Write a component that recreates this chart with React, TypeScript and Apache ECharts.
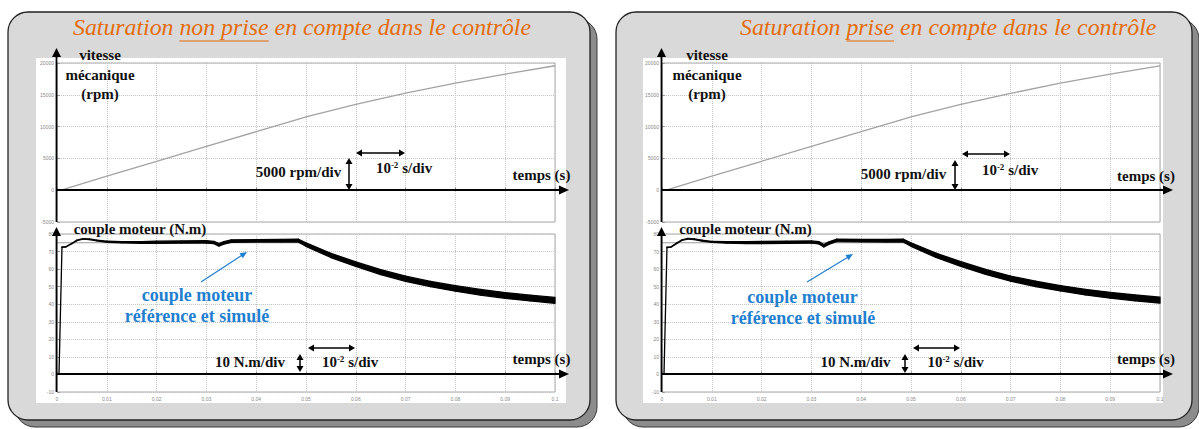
import React, { useEffect, useRef } from "react";
import * as echarts from "echarts";

// ---------------- data ----------------
const speedTime = [0, 0.001, 0.01, 0.02, 0.03, 0.04, 0.048, 0.05, 0.06, 0.07, 0.08, 0.09, 0.1];
const speedLeft = [0, 50, 2200, 4550, 6880, 9200, 11070, 11520, 13500, 15250, 16830, 18250, 19570];
const speedRight = [0, 50, 2200, 4550, 6880, 9200, 11070, 11520, 13480, 15230, 16820, 18240, 19560];

const torqueTime = [0, 0.0004, 0.001, 0.0018, 0.003, 0.004, 0.0052, 0.0065, 0.008, 0.01, 0.013, 0.017, 0.02, 0.025, 0.03, 0.0315, 0.0325, 0.0335, 0.035, 0.04, 0.045, 0.0485, 0.05, 0.055, 0.06, 0.065, 0.07, 0.075, 0.08, 0.085, 0.09, 0.095, 0.1];
const torqueLeft = [0, 0, 72.5, 72.7, 74.6, 76.4, 77.2, 77.0, 76.3, 75.6, 75.3, 75.2, 75.3, 75.4, 75.5, 75.2, 73.8, 74.9, 76.0, 76.1, 76.2, 76.2, 74.0, 67.8, 62.8, 58.3, 54.5, 51.5, 49.0, 46.8, 45.0, 43.5, 42.2];
const rippleLeft = [0, 0, 0.2, 0.2, 0.3, 0.3, 0.3, 0.4, 0.5, 0.6, 0.8, 1.0, 1.2, 1.3, 1.3, 1.3, 1.4, 1.4, 1.4, 1.4, 1.5, 1.6, 2.0, 2.4, 2.6, 2.8, 2.9, 3.0, 3.1, 3.2, 3.3, 3.3, 3.4];
const refLeft = [75, 75, 75, 75, 75, 75, 75, 75, 75, 75, 75, 75, 75, 75, 75, 75, 75, 75, 75, 75, 75, 75, 74.0, 67.8, 62.8, 58.3, 54.5, 51.5, 49.0, 46.8, 45.0, 43.5, 42.2];
const torqueRight = [0, 0, 72.4, 72.6, 74.8, 76.5, 77.3, 77.0, 76.2, 75.5, 75.2, 75.1, 75.2, 75.3, 75.4, 75.0, 73.3, 74.8, 76.3, 76.2, 76.2, 76.2, 74.0, 67.9, 62.9, 58.4, 54.6, 51.6, 49.1, 46.9, 45.1, 43.6, 42.3];
const rippleRight = [0, 0, 0.2, 0.2, 0.3, 0.3, 0.3, 0.4, 0.5, 0.6, 0.8, 1.0, 1.2, 1.3, 1.3, 1.3, 1.4, 1.4, 1.4, 1.4, 1.5, 1.6, 2.0, 2.4, 2.6, 2.8, 2.9, 3.0, 3.1, 3.2, 3.3, 3.3, 3.4];
const refRight = [75, 75, 75, 75, 75, 75, 75, 75, 75, 75, 75, 75, 75, 75, 75, 75, 75, 75, 75, 75, 75, 75, 74.0, 67.9, 62.9, 58.4, 54.6, 51.6, 49.1, 46.9, 45.1, 43.6, 42.3];

const timeAxis = { min: 0, max: 0.1, interval: 0.01 };
const speedAxis = { min: -5000, max: 20000, interval: 5000 };
const torqueAxis = { min: -10, max: 80, interval: 10 };

const titleLeft = ["Saturation ", "non prise", " en compte dans le contrôle"];
const titleRight = ["Saturation ", "prise", " en compte dans le contrôle"];
const speedLabel = ["vitesse", "mécanique", "(rpm)"];
const torqueLabel = "couple moteur (N.m)";
const blueLabel = ["couple moteur", "référence et simulé"];
const speedScaleLabel = "5000 rpm/div";
const torqueScaleLabel = "10 N.m/div";
const timeLabel = "temps (s)";

// ---------------- layout ----------------
const ORANGE = "#e46c0a";
const BLUE = "#1f7fd0";
const SERIF = '"Liberation Serif", "DejaVu Serif", serif';
const LABEL_FONT = `bold 15px ${SERIF}`;

const panels = [
  {
    title: titleLeft, titleX: 73,
    box: [8, 12, 582, 408], white: [36, 58, 530, 345],
    gx: 57, axisX: 56.5, xEnd: 569,
    vit: 100,
    t5000: [298.5, 172], v1: [349, 158, 190], h1: [356, 405, 153], sd1: [404, 168], tp1: [541.5, 175],
    couple: [140, 229], b1: [197, 295], b2: [197, 316], ba: [201, 282, 247, 252],
    t10: [250, 362], v2: [300, 354, 372], h2: [308, 355, 348], sd2: [350, 362], tp2: [541.5, 359],
  },
  {
    title: titleRight, titleX: 740,
    box: [616, 12, 576, 408], white: [643, 58, 520, 345],
    gx: 662, axisX: 661.5, xEnd: 1173,
    vit: 707,
    t5000: [903.5, 174], v1: [955, 160, 190], h1: [962, 1010, 154], sd1: [1010, 170], tp1: [1146, 176],
    couple: [745.5, 229], b1: [802.5, 297], b2: [803, 318], ba: [807, 282, 853, 254],
    t10: [855.5, 362], v2: [905, 354, 373], h2: [913, 960, 348], sd2: [955.5, 362], tp2: [1146, 359],
  },
];
const GW = 498;
const UP_TOP = 63, UP_H = 159, LOW_TOP = 234, LOW_H = 158;
const UP_ZERO = 190, LOW_ZERO = 374;

let measureCtx: CanvasRenderingContext2D | null = null;
function textWidth(t: string, font: string) {
  if (!measureCtx) measureCtx = document.createElement("canvas").getContext("2d");
  measureCtx!.font = font;
  return measureCtx!.measureText(t).width;
}

function head(x: number, y: number, dx: number, dy: number, len: number, half: number, color: string, z = 60) {
  const bx = x - dx * len, by = y - dy * len;
  const px = -dy * half, py = dx * half;
  return {
    type: "polygon", z, silent: true,
    shape: { points: [[x, y], [bx + px, by + py], [bx - px, by - py]] },
    style: { fill: color },
  };
}

function arrow(x1: number, y1: number, x2: number, y2: number, o: any) {
  const { color = "#000", width = 1.5, len = 7, half = 3.5, both = false } = o || {};
  const L = Math.hypot(x2 - x1, y2 - y1);
  const dx = (x2 - x1) / L, dy = (y2 - y1) / L;
  const sx = both ? x1 + dx * len * 0.8 : x1, sy = both ? y1 + dy * len * 0.8 : y1;
  const ex = x2 - dx * len * 0.8, ey = y2 - dy * len * 0.8;
  const els: any[] = [
    { type: "line", z: 60, silent: true, shape: { x1: sx, y1: sy, x2: ex, y2: ey }, style: { stroke: color, lineWidth: width } },
    head(x2, y2, dx, dy, len, half, color),
  ];
  if (both) els.push(head(x1, y1, -dx, -dy, len, half, color));
  return els;
}

function label(text: string, x: number, y: number, font = LABEL_FONT, fill = "#111") {
  return { type: "text", z: 70, x, y, silent: true, style: { text, font, fill, align: "center", verticalAlign: "middle" } };
}

function perDiv(x: number, y: number) {
  return {
    type: "text", z: 70, x, y, silent: true,
    style: {
      text: "{n|10}{s|-2}{n| s/div}", align: "center", verticalAlign: "middle",
      rich: {
        n: { font: LABEL_FONT, fill: "#111" },
        s: { fontSize: 9, fontWeight: "bold", fontFamily: SERIF, fill: "#111", verticalAlign: "top" },
      },
    },
  };
}

function bandRender(params: any, api: any) {
  const a = api.coord([api.value(0), api.value(2)]);
  const b = api.coord([api.value(3), api.value(5)]);
  const c = api.coord([api.value(3), api.value(4)]);
  const d = api.coord([api.value(0), api.value(1)]);
  return {
    type: "polygon",
    shape: { points: [a, b, c, d] },
    style: { fill: "#000", stroke: "#000", lineWidth: 1.3, lineJoin: "round" },
  };
}

function buildOption() {
  const fam = SERIF;
  const base = textWidth(titleLeft.join(""), `italic 100px ${fam}`);
  const titleSize = Math.round((100 * 459 / base) * 10) / 10;
  const tFont = `italic ${titleSize}px ${fam}`;

  const graphics: any[] = [];
  const grid: any[] = [];
  const xAxis: any[] = [];
  const yAxis: any[] = [];
  const series: any[] = [];

  const speeds = [speedLeft, speedRight];
  const torques = [torqueLeft, torqueRight];
  const ripples = [rippleLeft, rippleRight];
  const refs = [refLeft, refRight];

  panels.forEach((p, k) => {
    const [bx, by, bw, bh] = p.box;
    graphics.push({ type: "rect", z: -20, silent: true, shape: { x: bx + 7, y: by + 7, width: bw, height: bh, r: 20 }, style: { fill: "#8c8c8c", stroke: "#3a3a3a", lineWidth: 1 } });
    graphics.push({ type: "rect", z: -19, silent: true, shape: { x: bx, y: by, width: bw, height: bh, r: 20 }, style: { fill: "#d9d9d9", stroke: "#222", lineWidth: 1.3 } });
    const [wx, wy, ww, wh] = p.white;
    graphics.push({ type: "rect", z: -18, silent: true, shape: { x: wx, y: wy, width: ww, height: wh }, style: { fill: "#ffffff" } });

    // title
    graphics.push({ type: "text", z: 70, x: p.titleX, y: 27, silent: true, style: { text: p.title.join(""), font: tFont, fill: ORANGE, align: "left", verticalAlign: "middle" } });
    const u0 = p.titleX + textWidth(p.title[0], tFont);
    const u1 = u0 + textWidth(p.title[1], tFont);
    graphics.push({ type: "line", z: 70, silent: true, shape: { x1: u0, y1: 41, x2: u1, y2: 41 }, style: { stroke: ORANGE, lineWidth: 1.2 } });

    // grids & axes
    const gi = grid.length;
    [[UP_TOP, UP_H, speedAxis, false], [LOW_TOP, LOW_H, torqueAxis, true]].forEach(([top, h, ya, showX]: any) => {
      grid.push({ left: p.gx, top, width: GW, height: h, show: true, borderColor: "#a9a9a9", borderWidth: 1, backgroundColor: "transparent", outerBoundsMode: "none", containLabel: false });
      const idx = grid.length - 1;
      xAxis.push({
        type: "value", gridIndex: idx, ...timeAxis,
        axisLine: { show: false },
        axisTick: { show: true, inside: true, length: 3, lineStyle: { color: "#999" } },
        splitLine: { show: true, lineStyle: { type: "dotted", color: "#c4c4c4", width: 1 } },
        axisLabel: { show: showX, fontSize: 5, color: "#888", margin: 4, formatter: (v: number) => String(v) },
      });
      yAxis.push({
        type: "value", gridIndex: idx, ...ya,
        axisLine: { show: false },
        axisTick: { show: true, inside: true, length: 3, lineStyle: { color: "#999" } },
        splitLine: { show: true, lineStyle: { type: "dotted", color: "#c4c4c4", width: 1 } },
        axisLabel: { show: true, fontSize: 5, color: "#888", margin: 3, formatter: (v: number) => String(v) },
      });
    });

    series.push({
      type: "line", xAxisIndex: gi, yAxisIndex: gi, z: 3, showSymbol: false, symbol: "none", silent: true,
      data: speedTime.map((t, i) => [t, speeds[k][i]]),
      lineStyle: { color: "#a3a3a3", width: 1.3 },
    });
    series.push({
      type: "line", xAxisIndex: gi + 1, yAxisIndex: gi + 1, z: 3, showSymbol: false, symbol: "none", silent: true,
      data: torqueTime.map((t, i) => [t, refs[k][i]]),
      lineStyle: { color: "#9a9a9a", width: 1 },
    });
    const tq = torques[k], rp = ripples[k];
    const bandData = torqueTime.slice(0, -1).map((t, i) => [
      t, tq[i] - rp[i] / 2, tq[i] + rp[i] / 2,
      torqueTime[i + 1], tq[i + 1] - rp[i + 1] / 2, tq[i + 1] + rp[i + 1] / 2,
    ]);
    series.push({
      type: "custom", xAxisIndex: gi + 1, yAxisIndex: gi + 1, z: 4, silent: true,
      dimensions: ["t", "lo", "hi", "t2", "lo2", "hi2"],
      encode: { x: [0, 3], y: [1, 2, 4, 5] },
      renderItem: bandRender,
      data: bandData,
    });

    // axis arrows
    graphics.push(...arrow(p.axisX, UP_TOP + UP_H, p.axisX, 48, { width: 1.8, len: 9, half: 4.5 }));
    graphics.push(...arrow(p.axisX, LOW_TOP + LOW_H, p.axisX, 227, { width: 1.8, len: 9, half: 4.5 }));
    graphics.push(...arrow(p.axisX, UP_ZERO, p.xEnd, UP_ZERO, { width: 2, len: 10, half: 4.5 }));
    graphics.push(...arrow(p.axisX, LOW_ZERO, p.xEnd, LOW_ZERO, { width: 2, len: 10, half: 4.5 }));

    // speed labels
    graphics.push(label(speedLabel[0], p.vit, 55));
    graphics.push(label(speedLabel[1], p.vit, 75));
    graphics.push(label(speedLabel[2], p.vit, 94));
    graphics.push(label(speedScaleLabel, p.t5000[0], p.t5000[1]));
    graphics.push(...arrow(p.v1[0], p.v1[1], p.v1[0], p.v1[2], { width: 1.5, len: 6, half: 3.5, both: true }));
    graphics.push(...arrow(p.h1[0], p.h1[2], p.h1[1], p.h1[2], { width: 1.5, len: 6, half: 3.5, both: true }));
    graphics.push(perDiv(p.sd1[0], p.sd1[1]));
    graphics.push(label(timeLabel, p.tp1[0], p.tp1[1]));

    // torque labels
    graphics.push(label(torqueLabel, p.couple[0], p.couple[1]));
    graphics.push(label(blueLabel[0], p.b1[0], p.b1[1], `bold 18px ${SERIF}`, BLUE));
    graphics.push(label(blueLabel[1], p.b2[0], p.b2[1], `bold 18px ${SERIF}`, BLUE));
    graphics.push(...arrow(p.ba[0], p.ba[1], p.ba[2], p.ba[3], { color: BLUE, width: 1.2, len: 7, half: 3 }));
    graphics.push(label(torqueScaleLabel, p.t10[0], p.t10[1]));
    graphics.push(...arrow(p.v2[0], p.v2[1], p.v2[0], p.v2[2], { width: 1.5, len: 6, half: 3.5, both: true }));
    graphics.push(...arrow(p.h2[0], p.h2[2], p.h2[1], p.h2[2], { width: 1.5, len: 6, half: 3.5, both: true }));
    graphics.push(perDiv(p.sd2[0], p.sd2[1]));
    graphics.push(label(timeLabel, p.tp2[0], p.tp2[1]));
  });

  return {
    animation: false,
    backgroundColor: "#ffffff",
    grid, xAxis, yAxis, series,
    graphic: { elements: graphics },
  };
}

export default function App() {
  const ref = useRef<HTMLDivElement>(null);
  useEffect(() => {
    if (!ref.current) return;
    const chart = echarts.init(ref.current, null, { renderer: "svg" });
    chart.setOption(buildOption() as any);
    return () => chart.dispose();
  }, []);
  return (
    <div
      ref={ref}
      style={{ position: "fixed", left: 0, top: 0, width: 1199, height: 429, background: "#fff" }}
    />
  );
}
